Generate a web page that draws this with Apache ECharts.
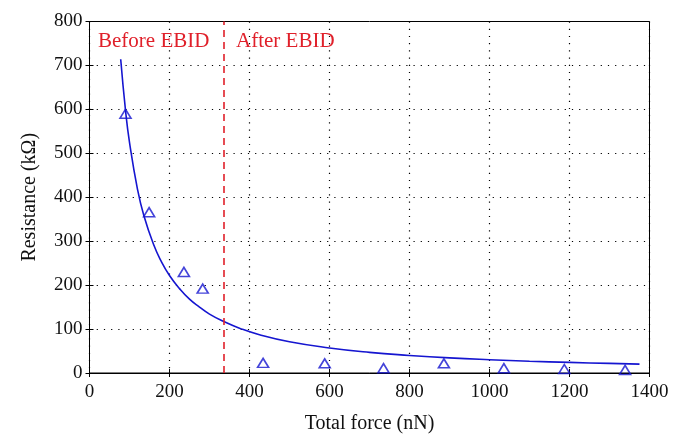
<!DOCTYPE html>
<html>
<head>
<meta charset="utf-8">
<script src="https://cdn.jsdelivr.net/npm/echarts@6/dist/echarts.min.js"></script>
<style>
html,body{margin:0;padding:0;background:#fff;}
#c{width:683px;height:447px;}
</style>
</head>
<body>
<div id="c"></div>
<script>
// Measured points (Total force nN, Resistance kΩ)
const pointForce = [90, 149, 236, 283, 434, 588, 735, 886, 1036, 1187, 1339];
const pointResistance = [590, 366, 230, 192, 23, 22, 11, 22, 11, 9, 7];

// Fitted curve
const curveForce = [78, 90, 100, 120, 136, 160, 180, 200, 225, 250, 275, 300, 336, 375, 425, 500, 600, 700, 800, 900, 1000, 1100, 1200, 1300, 1375];
const curveResistance = [714, 598, 525, 418, 358, 293, 253, 222, 192, 168, 150, 134, 117, 102, 87, 71, 57, 47, 40, 34.4, 30.2, 26.8, 24.1, 21.8, 20.3];

// Divider between regions
const dividerForce = 336;
const regionLabels = ['Before EBID', 'After EBID'];

const FONT = 'Liberation Serif';
const chart = echarts.init(document.getElementById('c'));

const pts = pointForce.map((f, i) => [f, pointResistance[i]]);
const curve = curveForce.map((f, i) => [f, curveResistance[i]]);

const gridSplit = {show: true, lineStyle: {color: '#000', width: 1.2, type: [1.2, 6]}};

chart.setOption({
  animation: false,
  backgroundColor: '#fff',
  grid: {left: 89.5, right: 33.5, top: 21.5, bottom: 74, show: true, borderColor: '#000', borderWidth: 1, backgroundColor: 'transparent'},
  xAxis: [{
    type: 'value', min: 0, max: 1400, interval: 200,
    name: 'Total force (nN)', nameLocation: 'middle', nameGap: 41,
    nameTextStyle: {fontFamily: FONT, fontSize: 20, color: '#111'},
    axisLine: {show: true, onZero: false, lineStyle: {color: '#000', width: 1}},
    axisTick: {show: true, inside: true, length: 4, lineStyle: {color: '#000'}},
    axisLabel: {fontFamily: FONT, fontSize: 19, color: '#111', margin: 10, formatter: v => String(v)},
    splitLine: gridSplit
  }, {
    type: 'value', min: 0, max: 1400, interval: 200, position: 'top',
    axisLine: {show: true, lineStyle: {color: '#000'}},
    axisTick: {show: true, inside: true, length: 4, lineStyle: {color: '#000'}},
    axisLabel: {show: false}, splitLine: {show: false}
  }],
  yAxis: [{
    type: 'value', min: 0, max: 800, interval: 100,
    name: 'Resistance (kΩ)', nameLocation: 'middle', nameGap: 50,
    nameTextStyle: {fontFamily: FONT, fontSize: 20, color: '#111'},
    axisLine: {show: true, onZero: false, lineStyle: {color: '#000', width: 1}},
    axisTick: {show: true, inside: true, length: 4, lineStyle: {color: '#000'}},
    axisLabel: {fontFamily: FONT, fontSize: 19, color: '#111', margin: 7, formatter: v => String(v)},
    splitLine: gridSplit
  }, {
    type: 'value', min: 0, max: 800, interval: 100, position: 'right',
    axisLine: {show: true, lineStyle: {color: '#000'}},
    axisTick: {show: true, inside: true, length: 4, lineStyle: {color: '#000'}},
    axisLabel: {show: false}, splitLine: {show: false}
  }],
  series: [{
    type: 'line', data: curve, smooth: true, showSymbol: false, symbol: 'none',
    lineStyle: {color: '#1515d0', width: 1.6}, z: 3,
    markLine: {
      silent: true, symbol: 'none', animation: false,
      lineStyle: {color: '#e0202a', width: 1.6, type: [7, 5]},
      label: {show: false},
      data: [{xAxis: dividerForce}]
    }
  }, {
    type: 'scatter', data: pts, symbol: 'triangle', symbolSize: [11, 9],
    itemStyle: {color: 'rgba(255,255,255,0)', borderColor: '#1515d0', borderWidth: 1.6}, z: 4
  }],
  graphic: [
    {type: 'text', left: 98, top: 31, style: {text: regionLabels[0], font: '21px "Liberation Serif"', fill: '#e0202a'}},
    {type: 'text', left: 236, top: 31, style: {text: regionLabels[1], font: '21px "Liberation Serif"', fill: '#e0202a'}}
  ]
});
</script>
</body>
</html>
